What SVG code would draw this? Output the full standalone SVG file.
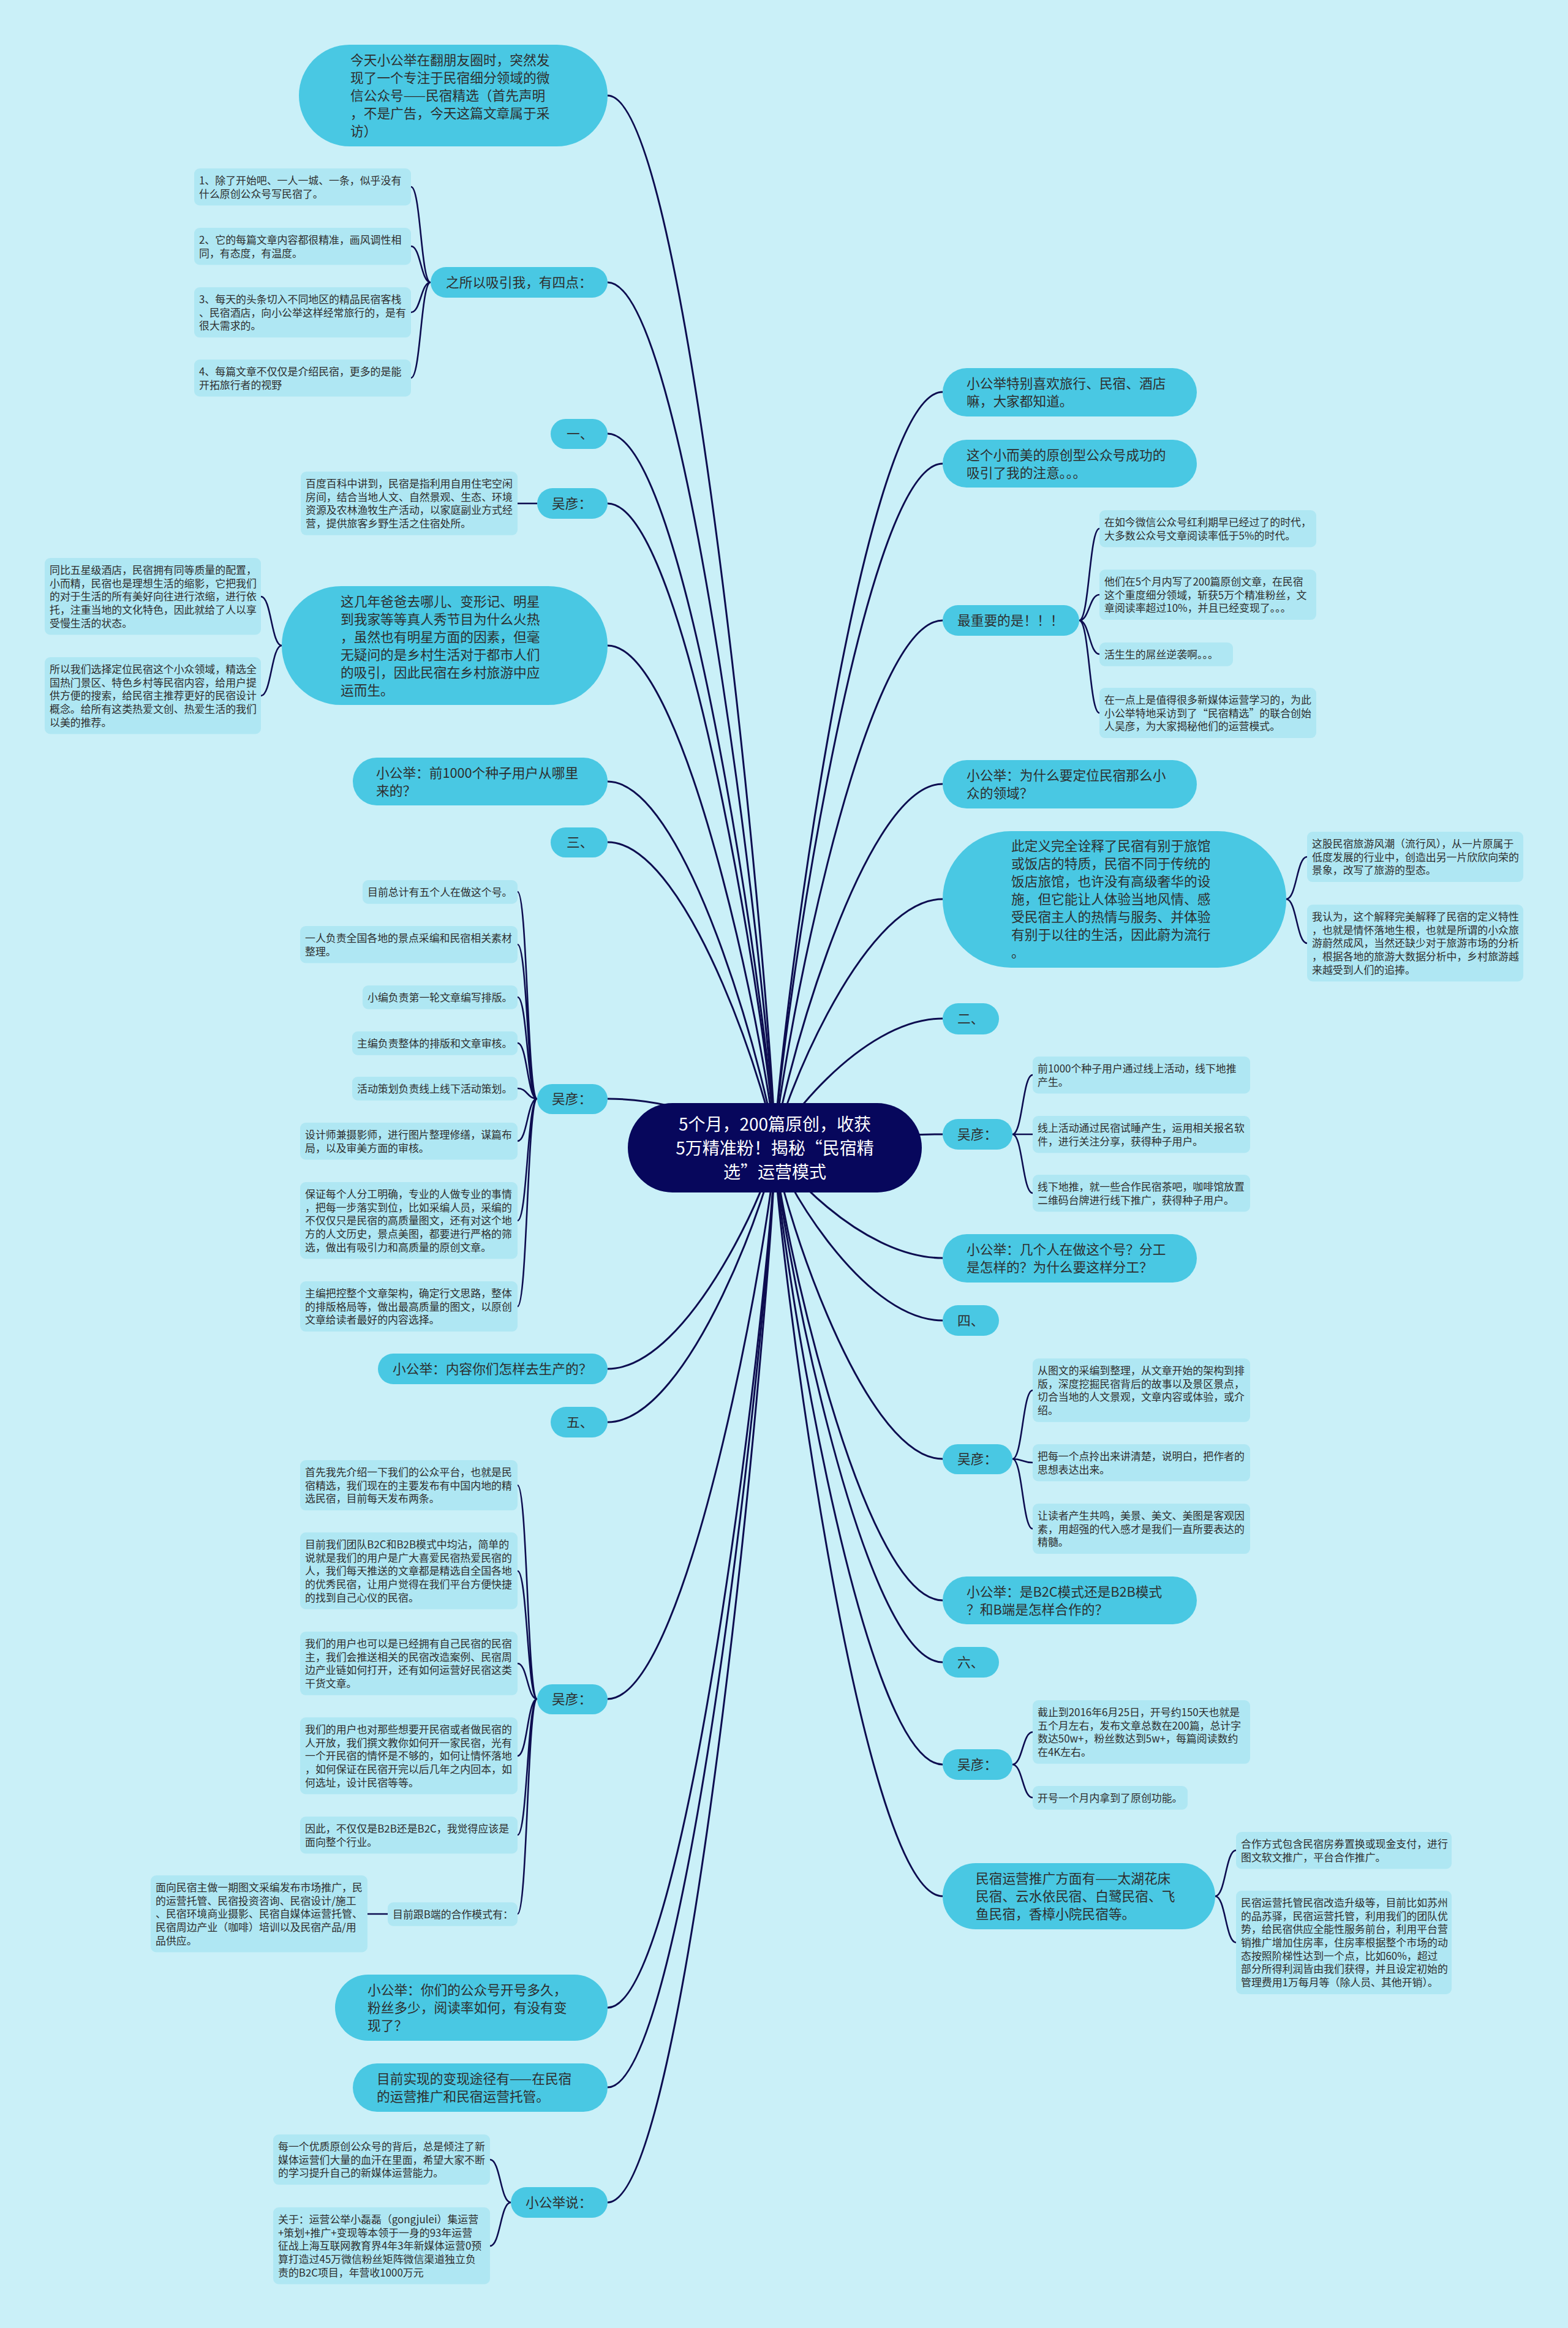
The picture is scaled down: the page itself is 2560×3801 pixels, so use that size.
<svg xmlns="http://www.w3.org/2000/svg" width="2560" height="3801" viewBox="0 0 2560 3801">
<style>
.pill{fill:#49c8e3}
.box{fill:#afe7f3}
.root{fill:#07075c}
.ln{fill:none;stroke:#0d0d50;stroke-width:3}
.sl{fill:none;stroke:#0d0d50;stroke-width:2.6}
text{font-family:"Noto Sans CJK SC","Noto Sans",sans-serif;fill:#2e2e2e}
.pt{font-size:21.7px}
.st{font-size:16.9px}
.rt{font-size:28px;fill:#ffffff;text-anchor:middle}
</style>
<rect width="2560" height="3801" fill="#caf0f8"/>
<g id="connectors">
<path class="ln" d="M1265 1874C1265 1702 1128.5 156 992 156"/>
<path class="ln" d="M1265 1874C1265 1733 1128.5 461 992 461"/>
<path class="ln" d="M1265 1874C1265 1757 1128.5 708 992 708"/>
<path class="ln" d="M1265 1874C1265 1769 1128.5 822 992 822"/>
<path class="ln" d="M1265 1874C1265 1792 1128.5 1054 992 1054"/>
<path class="ln" d="M1265 1874C1265 1814 1128.5 1276 992 1276"/>
<path class="ln" d="M1265 1874C1265 1824 1128.5 1375 992 1375"/>
<path class="ln" d="M1265 1874C1265 1866 1128.5 1794 992 1794"/>
<path class="ln" d="M1265 1874C1265 1910 1128.5 2235 992 2235"/>
<path class="ln" d="M1265 1874C1265 1919 1128.5 2322 992 2322"/>
<path class="ln" d="M1265 1874C1265 1964 1128.5 2774 992 2774"/>
<path class="ln" d="M1265 1874C1265 2014 1128.5 3278 992 3278"/>
<path class="ln" d="M1265 1874C1265 2027 1128.5 3408 992 3408"/>
<path class="ln" d="M1265 1874C1265 2046 1128.5 3596 992 3596"/>
<path class="ln" d="M1265 1874C1265 1751 1402 640 1539 640"/>
<path class="ln" d="M1265 1874C1265 1762 1402 757 1539 757"/>
<path class="ln" d="M1265 1874C1265 1788 1402 1013 1539 1013"/>
<path class="ln" d="M1265 1874C1265 1815 1402 1280 1539 1280"/>
<path class="ln" d="M1265 1874C1265 1833 1402 1468 1539 1468"/>
<path class="ln" d="M1265 1874C1265 1853 1402 1663 1539 1663"/>
<path class="ln" d="M1265 1874C1265 1872 1402 1852 1539 1852"/>
<path class="ln" d="M1265 1874C1265 1892 1402 2054 1539 2054"/>
<path class="ln" d="M1265 1874C1265 1902 1402 2156 1539 2156"/>
<path class="ln" d="M1265 1874C1265 1925 1402 2382 1539 2382"/>
<path class="ln" d="M1265 1874C1265 1948 1402 2613 1539 2613"/>
<path class="ln" d="M1265 1874C1265 1958 1402 2714 1539 2714"/>
<path class="ln" d="M1265 1874C1265 1975 1402 2881 1539 2881"/>
<path class="ln" d="M1265 1874C1265 1996 1402 3096 1539 3096"/>
<path class="sl" d="M703 461C687 461 687 305 671 305M703 461C687 461 687 402 671 402M703 461C687 461 687 510 671 510M703 461C687 461 687 617 671 617"/>
<path class="sl" d="M877 822H845"/>
<path class="sl" d="M460 1054C443 1054 443 974 426 974M460 1054C443 1054 443 1136 426 1136"/>
<path class="sl" d="M877 1794C861 1794 861 1456 845 1456M877 1794C861 1794 861 1542 845 1542M877 1794C861 1794 861 1628 845 1628M877 1794C861 1794 861 1703 845 1703M877 1794C861 1794 861 1777 845 1777M877 1794C861 1794 861 1863 845 1863M877 1794C861 1794 861 1993 845 1993M877 1794C861 1794 861 2133 845 2133"/>
<path class="sl" d="M877 2774C861 2774 861 2425 845 2425M877 2774C861 2774 861 2565 845 2565M877 2774C861 2774 861 2716 845 2716M877 2774C861 2774 861 2867 845 2867M877 2774C861 2774 861 2996 845 2996M877 2774C861 2774 861 3125 845 3125"/>
<path class="sl" d="M633 3125H600"/>
<path class="sl" d="M834 3596C817 3596 817 3526 800 3526M834 3596C817 3596 817 3667 800 3667"/>
<path class="sl" d="M1762 1013C1778.5 1013 1778.5 863 1795 863M1762 1013C1778.5 1013 1778.5 971 1795 971M1762 1013C1778.5 1013 1778.5 1068 1795 1068M1762 1013C1778.5 1013 1778.5 1164 1795 1164"/>
<path class="sl" d="M2100 1468C2117 1468 2117 1399 2134 1399M2100 1468C2117 1468 2117 1540 2134 1540"/>
<path class="sl" d="M1653 1852C1669.5 1852 1669.5 1755 1686 1755M1653 1852H1686M1653 1852C1669.5 1852 1669.5 1948 1686 1948"/>
<path class="sl" d="M1653 2382C1669.5 2382 1669.5 2270 1686 2270M1653 2382C1669.5 2382 1669.5 2388 1686 2388M1653 2382C1669.5 2382 1669.5 2496 1686 2496"/>
<path class="sl" d="M1653 2881C1669.5 2881 1669.5 2828 1686 2828M1653 2881C1669.5 2881 1669.5 2935 1686 2935"/>
<path class="sl" d="M1984 3096C2001 3096 2001 3021 2018 3021M1984 3096C2001 3096 2001 3171.5 2018 3171.5"/>
</g>

<g id="root">
<rect class="root" x="1025" y="1801" width="480" height="146" rx="73"/>
<text class="rt"><tspan x="1265" y="1845.6">5个月，200篇原创，收获</tspan><tspan x="1265" y="1884.6">5万精准粉！揭秘“民宿精</tspan><tspan x="1265" y="1923.6">选”运营模式</tspan></text>
</g>

<g id="n-intro">
<rect class="pill" x="488" y="73" width="504" height="166" rx="83"/>
<text class="pt"><tspan x="572" y="106.2">今天小公举在翻朋友圈时，突然发</tspan><tspan x="572" y="135.2">现了一个专注于民宿细分领域的微</tspan><tspan x="572" y="164.2">信公众号——民宿精选（首先声明</tspan><tspan x="572" y="193.2">，不是广告，今天这篇文章属于采</tspan><tspan x="572" y="222.2">访）</tspan></text>
</g>
<g id="n-four">
<rect class="pill" x="703" y="436" width="289" height="50" rx="25"/>
<text class="pt" x="728" y="469.2">之所以吸引我，有四点：</text>
</g>
<g id="n-four-1"><rect class="box" x="317" y="275" width="354" height="60.4" rx="9"/><text class="st"><tspan x="325" y="300.8">1、除了开始吧、一人一城、一条，似乎没有</tspan><tspan x="325" y="322.5">什么原创公众号写民宿了。</tspan></text></g>
<g id="n-four-2"><rect class="box" x="317" y="372" width="354" height="60.4" rx="9"/><text class="st"><tspan x="325" y="397.8">2、它的每篇文章内容都很精准，画风调性相</tspan><tspan x="325" y="419.5">同，有态度，有温度。</tspan></text></g>
<g id="n-four-3"><rect class="box" x="317" y="469" width="354" height="82.1" rx="9"/><text class="st"><tspan x="325" y="494.8">3、每天的头条切入不同地区的精品民宿客栈</tspan><tspan x="325" y="516.5">、民宿酒店，向小公举这样经常旅行的，是有</tspan><tspan x="325" y="538.2">很大需求的。</tspan></text></g>
<g id="n-four-4"><rect class="box" x="317" y="587" width="354" height="60.4" rx="9"/><text class="st"><tspan x="325" y="612.8">4、每篇文章不仅仅是介绍民宿，更多的是能</tspan><tspan x="325" y="634.5">开拓旅行者的视野</tspan></text></g>

<g id="n-one"><rect class="pill" x="899" y="684" width="93" height="49" rx="24.5"/><text class="pt" x="925" y="716.2">一、</text></g>
<g id="n-wy1"><rect class="pill" x="877" y="797" width="115" height="50" rx="25"/><text class="pt" x="901" y="830.2">吴彦：</text></g>
<g id="n-wy1-1"><rect class="box" x="491" y="770" width="354" height="103.8" rx="9"/><text class="st"><tspan x="499" y="795.8">百度百科中讲到，民宿是指利用自用住宅空闲</tspan><tspan x="499" y="817.5">房间，结合当地人文、自然景观、生态、环境</tspan><tspan x="499" y="839.2">资源及农林渔牧生产活动，以家庭副业方式经</tspan><tspan x="499" y="860.9">营，提供旅客乡野生活之住宿处所。</tspan></text></g>

<g id="n-show"><rect class="pill" x="460" y="957" width="532" height="194" rx="97"/><text class="pt"><tspan x="556" y="989.7">这几年爸爸去哪儿、变形记、明星</tspan><tspan x="556" y="1018.7">到我家等等真人秀节目为什么火热</tspan><tspan x="556" y="1047.7">，虽然也有明星方面的因素，但毫</tspan><tspan x="556" y="1076.7">无疑问的是乡村生活对于都市人们</tspan><tspan x="556" y="1105.7">的吸引，因此民宿在乡村旅游中应</tspan><tspan x="556" y="1134.7">运而生。</tspan></text></g>
<g id="n-show-1"><rect class="box" x="73" y="911" width="353" height="125.5" rx="9"/><text class="st"><tspan x="81" y="936.8">同比五星级酒店，民宿拥有同等质量的配置，</tspan><tspan x="81" y="958.5">小而精，民宿也是理想生活的缩影，它把我们</tspan><tspan x="81" y="980.2">的对于生活的所有美好向往进行浓缩，进行依</tspan><tspan x="81" y="1001.9">托，注重当地的文化特色，因此就给了人以享</tspan><tspan x="81" y="1023.6">受慢生活的状态。</tspan></text></g>
<g id="n-show-2"><rect class="box" x="73" y="1073" width="353" height="125.5" rx="9"/><text class="st"><tspan x="81" y="1098.8">所以我们选择定位民宿这个小众领域，精选全</tspan><tspan x="81" y="1120.5">国热门景区、特色乡村等民宿内容，给用户提</tspan><tspan x="81" y="1142.2">供方便的搜索，给民宿主推荐更好的民宿设计</tspan><tspan x="81" y="1163.9">概念。给所有这类热爱文创、热爱生活的我们</tspan><tspan x="81" y="1185.6">以美的推荐。</tspan></text></g>

<g id="n-seed-q"><rect class="pill" x="576" y="1237" width="416" height="78" rx="39"/><text class="pt"><tspan x="614" y="1269.7">小公举：前1000个种子用户从哪里</tspan><tspan x="614" y="1298.7">来的？</tspan></text></g>
<g id="n-three"><rect class="pill" x="899" y="1351" width="93" height="49" rx="24.5"/><text class="pt" x="925" y="1383.2">三、</text></g>
<g id="n-wy3"><rect class="pill" x="877" y="1770" width="115" height="49" rx="24.5"/><text class="pt" x="901" y="1802.2">吴彦：</text></g>
<g id="n-wy3-1"><rect class="box" x="592" y="1437" width="253" height="38.7" rx="9"/><text class="st" x="600" y="1462.8">目前总计有五个人在做这个号。</text></g>
<g id="n-wy3-2"><rect class="box" x="490" y="1512" width="355" height="60.4" rx="9"/><text class="st"><tspan x="498" y="1537.8">一人负责全国各地的景点采编和民宿相关素材</tspan><tspan x="498" y="1559.5">整理。</tspan></text></g>
<g id="n-wy3-3"><rect class="box" x="592" y="1609" width="253" height="38.7" rx="9"/><text class="st" x="600" y="1634.8">小编负责第一轮文章编写排版。</text></g>
<g id="n-wy3-4"><rect class="box" x="575" y="1684" width="270" height="38.7" rx="9"/><text class="st" x="583" y="1709.8">主编负责整体的排版和文章审核。</text></g>
<g id="n-wy3-5"><rect class="box" x="575" y="1758" width="270" height="38.7" rx="9"/><text class="st" x="583" y="1783.8">活动策划负责线上线下活动策划。</text></g>
<g id="n-wy3-6"><rect class="box" x="490" y="1833" width="355" height="60.4" rx="9"/><text class="st"><tspan x="498" y="1858.8">设计师兼摄影师，进行图片整理修缮，谋篇布</tspan><tspan x="498" y="1880.5">局，以及审美方面的审核。</tspan></text></g>
<g id="n-wy3-7"><rect class="box" x="490" y="1930" width="355" height="125.5" rx="9"/><text class="st"><tspan x="498" y="1955.8">保证每个人分工明确，专业的人做专业的事情</tspan><tspan x="498" y="1977.5">，把每一步落实到位，比如采编人员，采编的</tspan><tspan x="498" y="1999.2">不仅仅只是民宿的高质量图文，还有对这个地</tspan><tspan x="498" y="2020.9">方的人文历史，景点美图，都要进行严格的筛</tspan><tspan x="498" y="2042.6">选，做出有吸引力和高质量的原创文章。</tspan></text></g>
<g id="n-wy3-8"><rect class="box" x="490" y="2092" width="355" height="82.1" rx="9"/><text class="st"><tspan x="498" y="2117.8">主编把控整个文章架构，确定行文思路，整体</tspan><tspan x="498" y="2139.5">的排版格局等，做出最高质量的图文，以原创</tspan><tspan x="498" y="2161.2">文章给读者最好的内容选择。</tspan></text></g>

<g id="n-content-q"><rect class="pill" x="617" y="2210" width="375" height="50" rx="25"/><text class="pt" x="641" y="2243.2">小公举：内容你们怎样去生产的？</text></g>
<g id="n-five"><rect class="pill" x="899" y="2297" width="93" height="50" rx="25"/><text class="pt" x="925" y="2330.2">五、</text></g>
<g id="n-wy5"><rect class="pill" x="877" y="2750" width="115" height="49" rx="24.5"/><text class="pt" x="901" y="2782.2">吴彦：</text></g>
<g id="n-wy5-1"><rect class="box" x="490" y="2384" width="355" height="82.1" rx="9"/><text class="st"><tspan x="498" y="2409.8">首先我先介绍一下我们的公众平台，也就是民</tspan><tspan x="498" y="2431.5">宿精选，我们现在的主要发布有中国内地的精</tspan><tspan x="498" y="2453.2">选民宿，目前每天发布两条。</tspan></text></g>
<g id="n-wy5-2"><rect class="box" x="490" y="2502" width="355" height="125.5" rx="9"/><text class="st"><tspan x="498" y="2527.8">目前我们团队B2C和B2B模式中均沾，简单的</tspan><tspan x="498" y="2549.5">说就是我们的用户是广大喜爱民宿热爱民宿的</tspan><tspan x="498" y="2571.2">人，我们每天推送的文章都是精选自全国各地</tspan><tspan x="498" y="2592.9">的优秀民宿，让用户觉得在我们平台方便快捷</tspan><tspan x="498" y="2614.6">的找到自己心仪的民宿。</tspan></text></g>
<g id="n-wy5-3"><rect class="box" x="490" y="2664" width="355" height="103.8" rx="9"/><text class="st"><tspan x="498" y="2689.8">我们的用户也可以是已经拥有自己民宿的民宿</tspan><tspan x="498" y="2711.5">主，我们会推送相关的民宿改造案例、民宿周</tspan><tspan x="498" y="2733.2">边产业链如何打开，还有如何运营好民宿这类</tspan><tspan x="498" y="2754.9">干货文章。</tspan></text></g>
<g id="n-wy5-4"><rect class="box" x="490" y="2804" width="355" height="125.5" rx="9"/><text class="st"><tspan x="498" y="2829.8">我们的用户也对那些想要开民宿或者做民宿的</tspan><tspan x="498" y="2851.5">人开放，我们撰文教你如何开一家民宿，光有</tspan><tspan x="498" y="2873.2">一个开民宿的情怀是不够的，如何让情怀落地</tspan><tspan x="498" y="2894.9">，如何保证在民宿开完以后几年之内回本，如</tspan><tspan x="498" y="2916.6">何选址，设计民宿等等。</tspan></text></g>
<g id="n-wy5-5"><rect class="box" x="490" y="2966" width="355" height="60.4" rx="9"/><text class="st"><tspan x="498" y="2991.8">因此，不仅仅是B2B还是B2C，我觉得应该是</tspan><tspan x="498" y="3013.5">面向整个行业。</tspan></text></g>
<g id="n-wy5-6"><rect class="box" x="633" y="3106" width="212" height="38.7" rx="9"/><text class="st" x="641" y="3131.8">目前跟B端的合作模式有：</text></g>
<g id="n-wy5-6-1"><rect class="box" x="246" y="3062" width="354" height="125.5" rx="9"/><text class="st"><tspan x="254" y="3087.8">面向民宿主做一期图文采编发布市场推广，民</tspan><tspan x="254" y="3109.5">的运营托管、民宿投资咨询、民宿设计/施工</tspan><tspan x="254" y="3131.2">、民宿环境商业摄影、民宿自媒体运营托管、</tspan><tspan x="254" y="3152.9">民宿周边产业（咖啡）培训以及民宿产品/用</tspan><tspan x="254" y="3174.6">品供应。</tspan></text></g>

<g id="n-fans-q"><rect class="pill" x="547" y="3224" width="445" height="108" rx="54"/><text class="pt"><tspan x="600" y="3257.2">小公举：你们的公众号开号多久，</tspan><tspan x="600" y="3286.2">粉丝多少，阅读率如何，有没有变</tspan><tspan x="600" y="3315.2">现了？</tspan></text></g>
<g id="n-monetize"><rect class="pill" x="576" y="3369" width="416" height="79" rx="39.5"/><text class="pt"><tspan x="615" y="3402.2">目前实现的变现途径有——在民宿</tspan><tspan x="615" y="3431.2">的运营推广和民宿运营托管。</tspan></text></g>
<g id="n-says"><rect class="pill" x="834" y="3571" width="158" height="50" rx="25"/><text class="pt" x="858" y="3604.2">小公举说：</text></g>
<g id="n-says-1"><rect class="box" x="446" y="3485" width="354" height="82.1" rx="9"/><text class="st"><tspan x="454" y="3510.8">每一个优质原创公众号的背后，总是倾注了新</tspan><tspan x="454" y="3532.5">媒体运营们大量的血汗在里面，希望大家不断</tspan><tspan x="454" y="3554.2">的学习提升自己的新媒体运营能力。</tspan></text></g>
<g id="n-says-2"><rect class="box" x="446" y="3604" width="354" height="125.5" rx="9"/><text class="st"><tspan x="454" y="3629.8">关于：运营公举小磊磊（gongjulei）集运营</tspan><tspan x="454" y="3651.5">+策划+推广+变现等本领于一身的93年运营</tspan><tspan x="454" y="3673.2">征战上海互联网教育界4年3年新媒体运营0预</tspan><tspan x="454" y="3694.9">算打造过45万微信粉丝矩阵微信渠道独立负</tspan><tspan x="454" y="3716.6">责的B2C项目，年营收1000万元</tspan></text></g>

<g id="n-travel"><rect class="pill" x="1539" y="601" width="415" height="79" rx="39.5"/><text class="pt"><tspan x="1578" y="634.2">小公举特别喜欢旅行、民宿、酒店</tspan><tspan x="1578" y="663.2">嘛，大家都知道。</tspan></text></g>
<g id="n-attract"><rect class="pill" x="1539" y="718" width="415" height="78" rx="39"/><text class="pt"><tspan x="1578" y="751.2">这个小而美的原创型公众号成功的</tspan><tspan x="1578" y="780.2">吸引了我的注意。。。</tspan></text></g>
<g id="n-important"><rect class="pill" x="1539" y="988" width="223" height="50" rx="25"/><text class="pt" x="1563" y="1021.2">最重要的是！！！</text></g>
<g id="n-imp-1"><rect class="box" x="1795" y="833" width="354" height="60.4" rx="9"/><text class="st"><tspan x="1803" y="858.8">在如今微信公众号红利期早已经过了的时代，</tspan><tspan x="1803" y="880.5">大多数公众号文章阅读率低于5%的时代。</tspan></text></g>
<g id="n-imp-2"><rect class="box" x="1795" y="930" width="354" height="82.1" rx="9"/><text class="st"><tspan x="1803" y="955.8">他们在5个月内写了200篇原创文章，在民宿</tspan><tspan x="1803" y="977.5">这个重度细分领域，斩获5万个精准粉丝，文</tspan><tspan x="1803" y="999.2">章阅读率超过10%，并且已经变现了。。。</tspan></text></g>
<g id="n-imp-3"><rect class="box" x="1795" y="1049" width="218" height="38.7" rx="9"/><text class="st" x="1803" y="1074.8">活生生的屌丝逆袭啊。。。</text></g>
<g id="n-imp-4"><rect class="box" x="1795" y="1123" width="354" height="82.1" rx="9"/><text class="st"><tspan x="1803" y="1148.8">在一点上是值得很多新媒体运营学习的，为此</tspan><tspan x="1803" y="1170.5">小公举特地采访到了“民宿精选”的联合创始</tspan><tspan x="1803" y="1192.2">人吴彦，为大家揭秘他们的运营模式。</tspan></text></g>

<g id="n-why-q"><rect class="pill" x="1539" y="1241" width="415" height="79" rx="39.5"/><text class="pt"><tspan x="1578" y="1274.2">小公举：为什么要定位民宿那么小</tspan><tspan x="1578" y="1303.2">众的领域？</tspan></text></g>
<g id="n-define"><rect class="pill" x="1539" y="1357" width="561" height="223" rx="111.5"/><text class="pt"><tspan x="1651" y="1389.2">此定义完全诠释了民宿有别于旅馆</tspan><tspan x="1651" y="1418.2">或饭店的特质，民宿不同于传统的</tspan><tspan x="1651" y="1447.2">饭店旅馆，也许没有高级奢华的设</tspan><tspan x="1651" y="1476.2">施，但它能让人体验当地风情、感</tspan><tspan x="1651" y="1505.2">受民宿主人的热情与服务、并体验</tspan><tspan x="1651" y="1534.2">有别于以往的生活，因此蔚为流行</tspan><tspan x="1651" y="1563.2">。</tspan></text></g>
<g id="n-define-1"><rect class="box" x="2134" y="1358" width="353" height="82.1" rx="9"/><text class="st"><tspan x="2142" y="1383.8">这股民宿旅游风潮（流行风），从一片原属于</tspan><tspan x="2142" y="1405.5">低度发展的行业中，创造出另一片欣欣向荣的</tspan><tspan x="2142" y="1427.2">景象，改写了旅游的型态。</tspan></text></g>
<g id="n-define-2"><rect class="box" x="2134" y="1477" width="353" height="125.5" rx="9"/><text class="st"><tspan x="2142" y="1502.8">我认为，这个解释完美解释了民宿的定义特性</tspan><tspan x="2142" y="1524.5">，也就是情怀落地生根，也就是所谓的小众旅</tspan><tspan x="2142" y="1546.2">游蔚然成风，当然还缺少对于旅游市场的分析</tspan><tspan x="2142" y="1567.9">，根据各地的旅游大数据分析中，乡村旅游越</tspan><tspan x="2142" y="1589.6">来越受到人们的追捧。</tspan></text></g>

<g id="n-two"><rect class="pill" x="1539" y="1638" width="92" height="51" rx="25.5"/><text class="pt" x="1563" y="1671.2">二、</text></g>
<g id="n-wy2"><rect class="pill" x="1539" y="1827" width="114" height="50" rx="25"/><text class="pt" x="1563" y="1860.2">吴彦：</text></g>
<g id="n-wy2-1"><rect class="box" x="1686" y="1725" width="355" height="60.4" rx="9"/><text class="st"><tspan x="1694" y="1750.8">前1000个种子用户通过线上活动，线下地推</tspan><tspan x="1694" y="1772.5">产生。</tspan></text></g>
<g id="n-wy2-2"><rect class="box" x="1686" y="1822" width="355" height="60.4" rx="9"/><text class="st"><tspan x="1694" y="1847.8">线上活动通过民宿试睡产生，运用相关报名软</tspan><tspan x="1694" y="1869.5">件，进行关注分享，获得种子用户。</tspan></text></g>
<g id="n-wy2-3"><rect class="box" x="1686" y="1918" width="355" height="60.4" rx="9"/><text class="st"><tspan x="1694" y="1943.8">线下地推，就一些合作民宿茶吧，咖啡馆放置</tspan><tspan x="1694" y="1965.5">二维码台牌进行线下推广，获得种子用户。</tspan></text></g>

<g id="n-team-q"><rect class="pill" x="1539" y="2015" width="415" height="79" rx="39.5"/><text class="pt"><tspan x="1578" y="2048.2">小公举：几个人在做这个号？分工</tspan><tspan x="1578" y="2077.2">是怎样的？为什么要这样分工？</tspan></text></g>
<g id="n-four-r"><rect class="pill" x="1539" y="2131" width="92" height="50" rx="25"/><text class="pt" x="1563" y="2164.2">四、</text></g>
<g id="n-wy4"><rect class="pill" x="1539" y="2358" width="114" height="49" rx="24.5"/><text class="pt" x="1563" y="2390.2">吴彦：</text></g>
<g id="n-wy4-1"><rect class="box" x="1686" y="2218" width="355" height="103.8" rx="9"/><text class="st"><tspan x="1694" y="2243.8">从图文的采编到整理，从文章开始的架构到排</tspan><tspan x="1694" y="2265.5">版，深度挖掘民宿背后的故事以及景区景点，</tspan><tspan x="1694" y="2287.2">切合当地的人文景观，文章内容或体验，或介</tspan><tspan x="1694" y="2308.9">绍。</tspan></text></g>
<g id="n-wy4-2"><rect class="box" x="1686" y="2358" width="355" height="60.4" rx="9"/><text class="st"><tspan x="1694" y="2383.8">把每一个点拎出来讲清楚，说明白，把作者的</tspan><tspan x="1694" y="2405.5">思想表达出来。</tspan></text></g>
<g id="n-wy4-3"><rect class="box" x="1686" y="2455" width="355" height="82.1" rx="9"/><text class="st"><tspan x="1694" y="2480.8">让读者产生共鸣，美景、美文、美图是客观因</tspan><tspan x="1694" y="2502.5">素，用超强的代入感才是我们一直所要表达的</tspan><tspan x="1694" y="2524.2">精髓。</tspan></text></g>

<g id="n-b2c-q"><rect class="pill" x="1539" y="2574" width="415" height="78" rx="39"/><text class="pt"><tspan x="1578" y="2607.2">小公举：是B2C模式还是B2B模式</tspan><tspan x="1578" y="2636.2">？和B端是怎样合作的？</tspan></text></g>
<g id="n-six"><rect class="pill" x="1539" y="2689" width="92" height="50" rx="25"/><text class="pt" x="1563" y="2722.2">六、</text></g>
<g id="n-wy6"><rect class="pill" x="1539" y="2856" width="114" height="50" rx="25"/><text class="pt" x="1563" y="2889.2">吴彦：</text></g>
<g id="n-wy6-1"><rect class="box" x="1686" y="2776" width="355" height="103.8" rx="9"/><text class="st"><tspan x="1694" y="2801.8">截止到2016年6月25日，开号约150天也就是</tspan><tspan x="1694" y="2823.5">五个月左右，发布文章总数在200篇，总计字</tspan><tspan x="1694" y="2845.2">数达50w+，粉丝数达到5w+，每篇阅读数约</tspan><tspan x="1694" y="2866.9">在4K左右。</tspan></text></g>
<g id="n-wy6-2"><rect class="box" x="1686" y="2916" width="253" height="38.7" rx="9"/><text class="st" x="1694" y="2941.8">开号一个月内拿到了原创功能。</text></g>

<g id="n-promo"><rect class="pill" x="1539" y="3042" width="445" height="108" rx="54"/><text class="pt"><tspan x="1593" y="3075.2">民宿运营推广方面有——太湖花床</tspan><tspan x="1593" y="3104.2">民宿、云水依民宿、白鹭民宿、飞</tspan><tspan x="1593" y="3133.2">鱼民宿，香樟小院民宿等。</tspan></text></g>
<g id="n-promo-1"><rect class="box" x="2018" y="2991" width="352" height="60.4" rx="9"/><text class="st"><tspan x="2026" y="3016.8">合作方式包含民宿房券置换或现金支付，进行</tspan><tspan x="2026" y="3038.5">图文软文推广，平台合作推广。</tspan></text></g>
<g id="n-promo-2"><rect class="box" x="2018" y="3087" width="352" height="168.9" rx="9"/><text class="st"><tspan x="2026" y="3112.8">民宿运营托管民宿改造升级等，目前比如苏州</tspan><tspan x="2026" y="3134.5">的品苏驿，民宿运营托管，利用我们的团队优</tspan><tspan x="2026" y="3156.2">势，给民宿供应全能性服务前台，利用平台营</tspan><tspan x="2026" y="3177.9">销推广增加住房率，住房率根据整个市场的动</tspan><tspan x="2026" y="3199.6">态按照阶梯性达到一个点，比如60%，超过</tspan><tspan x="2026" y="3221.3">部分所得利润皆由我们获得，并且设定初始的</tspan><tspan x="2026" y="3243">管理费用1万每月等（除人员、其他开销）。</tspan></text></g>
</svg>
